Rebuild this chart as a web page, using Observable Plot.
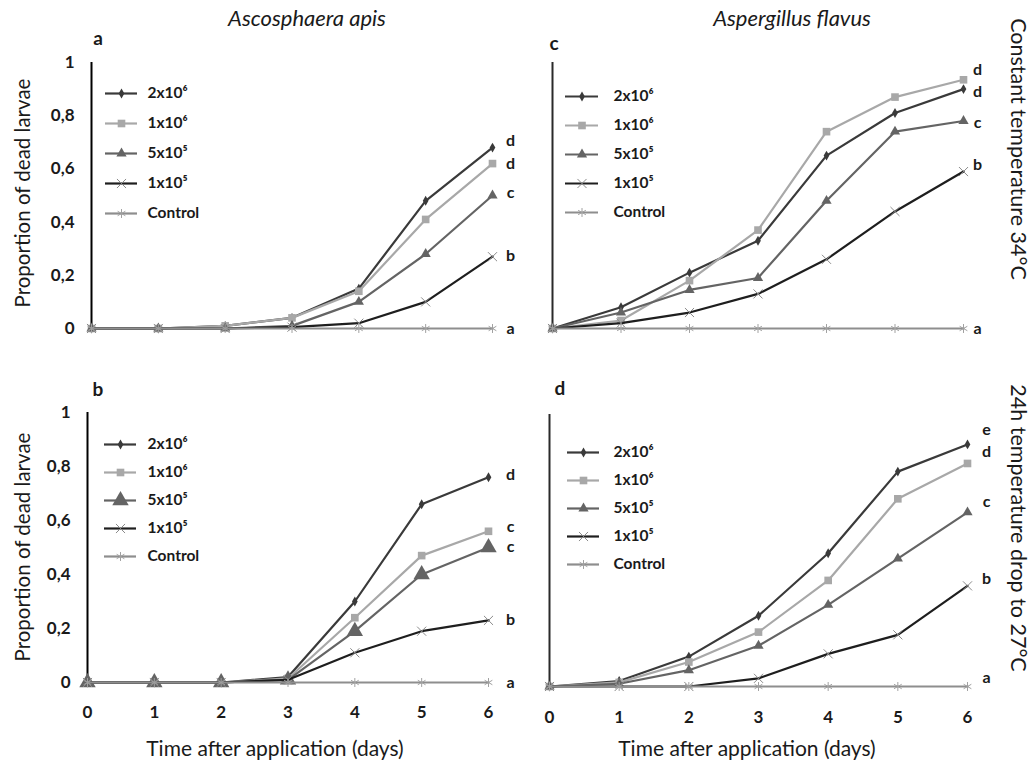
<!DOCTYPE html>
<html><head><meta charset="utf-8">
<script src="https://cdn.jsdelivr.net/npm/d3@7"></script>
<script src="https://cdn.jsdelivr.net/npm/@observablehq/plot@0.6"></script>
<style>
body{margin:0;background:#fff;}
#root{position:relative;width:1032px;height:767px;background:#fff;font-family:Lato,"Open Sans",sans-serif;color:#1a1a1a;overflow:hidden}
.lbl{position:absolute;white-space:nowrap;transform:translate(-50%,-50%);line-height:1}
</style></head><body><div id="root"></div>
<script>
// ---------- data ----------
const days = [0, 1, 2, 3, 4, 5, 6];
const series = ["2x10⁶", "1x10⁶", "5x10⁵", "1x10⁵", "Control"];
const yTicks = [0, 0.2, 0.4, 0.6, 0.8, 1];

// Panel a: Ascosphaera apis, constant 34°C
const a_2e6 = [0, 0, 0.01, 0.04, 0.15, 0.48, 0.68];
const a_1e6 = [0, 0, 0.01, 0.04, 0.14, 0.41, 0.62];
const a_5e5 = [0, 0, 0, 0.01, 0.10, 0.28, 0.50];
const a_1e5 = [0, 0, 0, 0.005, 0.02, 0.10, 0.27];
const a_ctl = [0, 0, 0, 0, 0, 0, 0];
const a_letters = ["d", "d", "c", "b", "a"];
const a_letterY = [0.707, 0.62, 0.51, 0.274, 0];

// Panel c: Aspergillus flavus, constant 34°C
const c_2e6 = [0, 0.08, 0.21, 0.33, 0.65, 0.81, 0.90];
const c_1e6 = [0, 0.03, 0.18, 0.37, 0.74, 0.87, 0.935];
const c_5e5 = [0, 0.06, 0.145, 0.19, 0.48, 0.74, 0.78];
const c_1e5 = [0, 0.02, 0.06, 0.13, 0.26, 0.44, 0.59];
const c_ctl = [0, 0, 0, 0, 0, 0, 0];
const c_letters = ["d", "d", "c", "b", "a"];
const c_letterY = [0.974, 0.89, 0.774, 0.617, 0];

// Panel b: Ascosphaera apis, 24h drop to 27°C
const b_2e6 = [0, 0, 0, 0.02, 0.30, 0.66, 0.76];
const b_1e6 = [0, 0, 0, 0.015, 0.24, 0.47, 0.56];
const b_5e5 = [0, 0, 0, 0.01, 0.19, 0.40, 0.50];
const b_1e5 = [0, 0, 0, 0.01, 0.11, 0.19, 0.23];
const b_ctl = [0, 0, 0, 0, 0, 0, 0];
const b_letters = ["d", "c", "c", "b", "a"];
const b_letterY = [0.77, 0.578, 0.504, 0.233, 0];

// Panel d: Aspergillus flavus, 24h drop to 27°C
const d_2e6 = [0, 0.02, 0.11, 0.26, 0.49, 0.79, 0.89];
const d_1e6 = [0, 0.015, 0.09, 0.20, 0.39, 0.69, 0.82];
const d_5e5 = [0, 0.01, 0.06, 0.15, 0.30, 0.47, 0.64];
const d_1e5 = [0, 0, 0, 0.03, 0.12, 0.19, 0.37];
const d_ctl = [0, 0, 0, 0, 0, 0, 0];
const d_letters = ["e", "d", "c", "b", "a"];
const d_letterY = [0.945, 0.864, 0.68, 0.397, 0.03];

// ---------- styles ----------
const colors = ["#3a3a3a", "#a8a8a8", "#646464", "#1e1e1e", "#8e8e8e"];
const markerColors = ["#3a3a3a", "#a8a8a8", "#646464", "#8a8a8a", "#a0a0a0"];
const symbols = ["diamond", "square", "triangle", "times", "asterisk"];
const filledSym = [true, true, true, false, false];
const baseR = [3, 4.3, 3.8, 4.2, 4.2];

const root = document.getElementById("root");
const FONT = "Lato, 'Open Sans', sans-serif";

function place(el, left, top) {
  el.style.position = "absolute";
  el.style.left = left + "px";
  el.style.top = top + "px";
  root.appendChild(el);
}
function label(text, x, y, opts = {}) {
  const d = document.createElement("div");
  d.className = "lbl";
  d.textContent = text;
  d.style.left = x + "px";
  d.style.top = y + "px";
  d.style.fontSize = (opts.size || 18) + "px";
  if (opts.bold) d.style.fontWeight = "bold";
  if (opts.italic) d.style.fontStyle = "italic";
  if (opts.rotate) d.style.transform = `translate(-50%,-50%) rotate(${opts.rotate}deg)`;
  root.appendChild(d);
}

function dotMarks(data, si, rMul) {
  const r = baseR[si] * (si === 2 ? rMul : 1);
  return filledSym[si]
    ? Plot.dot(data, {x: "x", y: "y", symbol: symbols[si], r, fill: markerColors[si], stroke: "none"})
    : Plot.dot(data, {x: "x", y: "y", symbol: symbols[si], r, stroke: markerColors[si], strokeWidth: 1, fill: "none"});
}

function panel(p) {
  const vals = p.values;
  const marks = [];
  marks.push(Plot.ruleX([0], {y1: 0, y2: 1, stroke: p.axisColor, strokeWidth: 2}));
  series.forEach((s, si) => {
    const data = days.map((dd, i) => ({x: dd, y: vals[si][i]}));
    marks.push(Plot.line(data, {x: "x", y: "y", stroke: colors[si], strokeWidth: 2.2}));
    marks.push(dotMarks(data, si, p.triMul || 1));
  });
  const lt = p.letters.map((t, i) => ({t, y: p.letterY[i]}));
  marks.push(Plot.text(lt, {x: () => 6, y: "y", text: "t", dx: p.letterDx, fontWeight: "bold", fontSize: 16, fill: "#1a1a1a"}));
  if (p.yLabels) {
    marks.push(Plot.axisY({ticks: yTicks, tickSize: 0, tickPadding: 17, tickFormat: d => String(d).replace(".", ","), fontWeight: "bold", fontSize: 17, label: null}));
  }
  if (p.xLabels) {
    marks.push(Plot.axisX({ticks: days, tickSize: 0, tickPadding: p.xPad, tickFormat: d => String(d), fontWeight: "bold", fontSize: 17, label: null}));
  }
  const svg = Plot.plot({
    width: p.w, height: p.h,
    marginLeft: p.ml, marginRight: p.mr, marginTop: p.mt, marginBottom: p.mb,
    x: {domain: [0, 6], ...(p.xLabels ? {} : {axis: null})},
    y: {domain: [0, 1], ...(p.yLabels ? {} : {axis: null})},
    style: {fontFamily: FONT, color: "#1a1a1a", background: "transparent", overflow: "visible"},
    marks
  });
  place(svg, p.left, p.top);
}

function legend(p) {
  const marks = [];
  series.forEach((s, si) => {
    marks.push(Plot.ruleY([s], {y: d => d, x1: 0, x2: 1, stroke: colors[si], strokeWidth: 2.2}));
    marks.push(dotMarks([{x: 0.5, y: s}], si, p.triMul || 1));
  });
  marks.push(Plot.text(series, {x: () => 1, y: d => d, text: d => d, dx: p.dx, textAnchor: "start", fontWeight: "bold", fontSize: 15.5, fill: "#1a1a1a"}));
  const svg = Plot.plot({
    width: 170, height: p.h,
    x: {domain: [0, 1], range: p.xr, axis: null},
    y: {type: "point", domain: series, range: p.yr, axis: null},
    style: {fontFamily: FONT, color: "#1a1a1a", background: "transparent", overflow: "visible"},
    marks
  });
  place(svg, p.left, p.top);
}

// Panels
panel({left: 0, top: 0, w: 520, h: 380, ml: 91, mr: 28, mt: 62, mb: 52,
  values: [a_2e6, a_1e6, a_5e5, a_1e5, a_ctl], letters: a_letters, letterY: a_letterY,
  letterDx: 18, axisColor: "#000", yLabels: true, xLabels: false});
panel({left: 520, top: 0, w: 512, h: 380, ml: 32, mr: 69, mt: 62, mb: 52,
  values: [c_2e6, c_1e6, c_5e5, c_1e5, c_ctl], letters: c_letters, letterY: c_letterY,
  letterDx: 14, axisColor: "#2a2a2a", yLabels: false, xLabels: false});
panel({left: 0, top: 380, w: 520, h: 387, ml: 87, mr: 32, mt: 32, mb: 85,
  values: [b_2e6, b_1e6, b_5e5, b_1e5, b_ctl], letters: b_letters, letterY: b_letterY,
  letterDx: 22, axisColor: "#000", yLabels: true, xLabels: true, xPad: 23, triMul: 1.6});
panel({left: 520, top: 380, w: 512, h: 387, ml: 29, mr: 65, mt: 34, mb: 81,
  values: [d_2e6, d_1e6, d_5e5, d_1e5, d_ctl], letters: d_letters, letterY: d_letterY,
  letterDx: 19, axisColor: "#2a2a2a", yLabels: false, xLabels: true, xPad: 24});

// Legends
legend({left: 100, top: 60, h: 190, xr: [5, 37], yr: [17, 168], dx: 10});
legend({left: 560, top: 60, h: 190, xr: [5, 38], yr: [21, 167], dx: 15});
legend({left: 99, top: 410, h: 190, xr: [5, 37], yr: [18, 161], dx: 11, triMul: 1.6});
legend({left: 562, top: 410, h: 190, xr: [5, 37], yr: [26, 170], dx: 14});

// Text labels
label("Ascosphaera apis", 307, 18, {size: 22, italic: true});
label("Aspergillus flavus", 792, 18, {size: 22, italic: true});
label("a", 98, 37, {size: 19, bold: true});
label("c", 554, 42, {size: 19, bold: true});
label("b", 98, 388, {size: 19, bold: true});
label("d", 560, 387, {size: 19, bold: true});
label("Proportion of dead larvae", 22, 193, {size: 20.5, rotate: -90});
label("Proportion of dead larvae", 22, 547, {size: 20.5, rotate: -90});
label("Time after application (days)", 275, 747, {size: 21});
label("Time after application (days)", 747, 747, {size: 21});
label("Constant temperature 34°C", 1018, 149, {size: 21.5, rotate: 90});
label("24h temperature drop to 27°C", 1018, 528, {size: 21.5, rotate: 90});
</script></body></html>
